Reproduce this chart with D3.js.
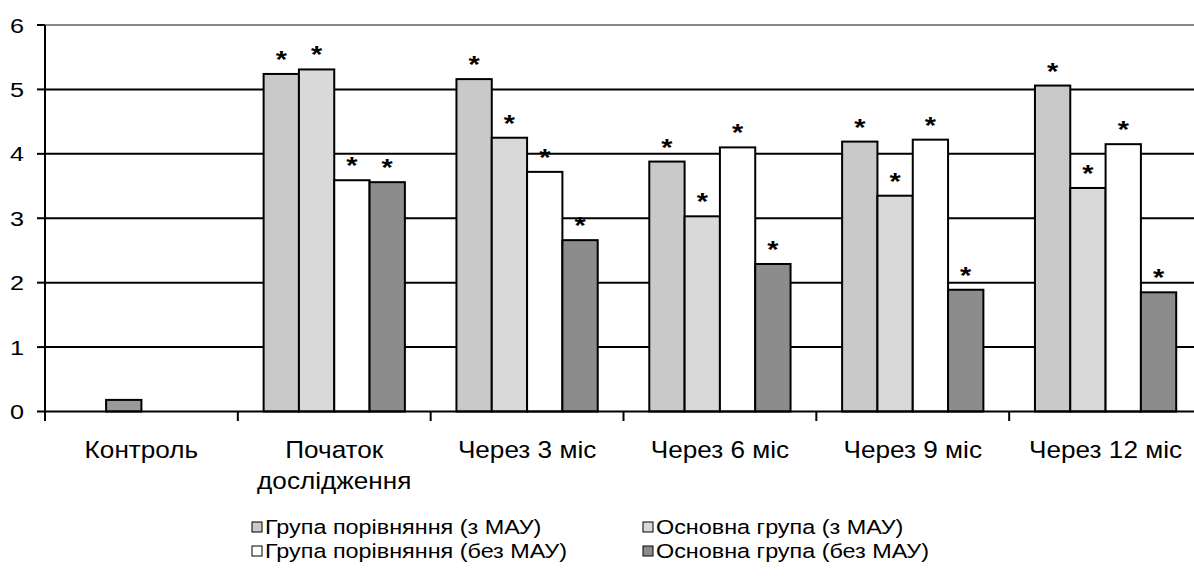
<!DOCTYPE html>
<html><head><meta charset="utf-8">
<script src="https://cdn.jsdelivr.net/npm/d3@7"></script>
<style>body{margin:0;background:#fff}svg{display:block}text{font-family:Arial,"Liberation Sans",sans-serif;fill:#000}</style>
</head><body><svg id="c" width="1194" height="577"></svg>
<script>
const categories = ["Контроль", "Початок\nдослідження", "Через 3 міс", "Через 6 міс", "Через 9 міс", "Через 12 міс"];
const seriesNames = ["Група порівняння (з МАУ)", "Основна група (з МАУ)", "Група порівняння (без МАУ)", "Основна група (без МАУ)"];
const compWithMAU  = [null, 5.24, 5.16, 3.88, 4.19, 5.06];
const mainWithMAU  = [0.18, 5.31, 4.25, 3.03, 3.35, 3.47];
const compNoMAU    = [null, 3.59, 3.72, 4.10, 4.22, 4.15];
const mainNoMAU    = [null, 3.56, 2.66, 2.29, 1.89, 1.85];
const significant  = [[false,true,true,true,true,true],[false,true,true,true,true,true],[false,true,true,true,true,true],[false,true,true,true,true,true]];
const yTicks = [0,1,2,3,4,5,6];

const seriesValues = [compWithMAU, mainWithMAU, compNoMAU, mainNoMAU];
const fills = ["#c9c9c9", "#d9d9d9", "#ffffff", "#8c8c8c"];
const controlFill = "#9a9a9a";
const SX = 1.2;

const svg = d3.select("#c");
const y = d3.scaleLinear().domain([0,6]).range([411.5, 25]);
const x0 = d3.scaleBand().domain(categories).range([45, 1202]).padding(0);
const x1 = d3.scaleBand().domain(d3.range(4)).range([0, x0.bandwidth()]).paddingInner(0).paddingOuter(0.73);

// gridlines
svg.append("g").selectAll("line").data(yTicks.filter(d=>d>0)).join("line")
  .attr("x1",45).attr("x2",1194).attr("y1",d=>y(d)).attr("y2",d=>y(d))
  .attr("stroke",d=>d===6?"#888":"#000").attr("stroke-width",2);

// bars
const data = [];
categories.forEach((c,ci)=>seriesValues.forEach((s,si)=>{ if(s[ci]!=null) data.push({c,ci,si,v:s[ci]}); }));
svg.append("g").selectAll("rect").data(data).join("rect")
  .attr("x",d=>x0(d.c)+x1(d.si)).attr("width",x1.bandwidth())
  .attr("y",d=>y(d.v)).attr("height",d=>y(0)-y(d.v))
  .attr("fill",d=>d.ci===0?controlFill:fills[d.si]).attr("stroke","#000").attr("stroke-width",2);

// asterisks
svg.append("g").selectAll("text").data(data.filter(d=>significant[d.si][d.ci])).join("text")
  .attr("transform",d=>`translate(${x0(d.c)+x1(d.si)+x1.bandwidth()/2},${y(d.v)-6}) scale(${SX},1)`)
  .attr("text-anchor","middle").style("font-size","24px").style("font-weight","bold").text("*");

// axes
svg.append("line").attr("x1",45).attr("x2",45).attr("y1",25).attr("y2",421).attr("stroke","#000").attr("stroke-width",2);
svg.append("line").attr("x1",45).attr("x2",1194).attr("y1",y(0)).attr("y2",y(0)).attr("stroke","#000").attr("stroke-width",2);
svg.append("g").selectAll("line").data(yTicks).join("line")
  .attr("x1",37).attr("x2",45).attr("y1",d=>y(d)).attr("y2",d=>y(d)).attr("stroke","#000").attr("stroke-width",2);
svg.append("g").selectAll("text").data(yTicks).join("text")
  .attr("transform",d=>`translate(24,${y(d)+7.5}) scale(${SX},1)`)
  .attr("text-anchor","end").style("font-size","21px").text(d=>d);
svg.append("g").selectAll("line").data(categories.slice(1)).join("line")
  .attr("x1",d=>x0(d)).attr("x2",d=>x0(d)).attr("y1",y(0)).attr("y2",421).attr("stroke","#000").attr("stroke-width",2);
const cl = svg.append("g").selectAll("text").data(categories).join("text")
  .attr("transform",d=>`translate(${x0(d)+x0.bandwidth()/2},458) scale(1.09,1)`)
  .attr("text-anchor","middle").style("font-size","24px");
cl.each(function(d){ const t=d3.select(this); d.split("\n").forEach((s,i)=>t.append("tspan").attr("x",0).attr("dy",i?31:0).text(s)); });

// legend
const legPos = [[252,527],[643,527],[252,551],[643,551]];
const lg = svg.append("g").selectAll("g").data(seriesNames).join("g")
  .attr("transform",(d,i)=>`translate(${legPos[i][0]},${legPos[i][1]})`);
lg.append("rect").attr("x",0).attr("y",-5).attr("width",10).attr("height",10)
  .attr("fill",(d,i)=>fills[i]).attr("stroke","#000").attr("stroke-width",1);
lg.append("text").attr("transform",`translate(13,7) scale(${SX},1)`).style("font-size","19.5px").text(d=>d);
</script></body></html>
